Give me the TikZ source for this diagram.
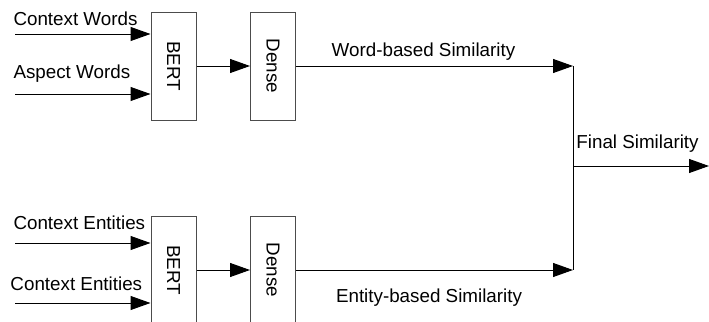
\documentclass[tikz,border=0pt]{standalone}
\usepackage{fontspec}
\setmainfont{Liberation Sans}
\usetikzlibrary{arrows.meta}
\begin{document}
\begin{tikzpicture}[
        x=0.5pt, y=-0.5pt,
        line width=0.5pt,
        font=\fontsize{9.4}{11}\selectfont,
        >={Triangle[length=10pt,width=7pt]}
    ]
    \tikzset{
        block/.style = {rectangle, draw=black!70, rotate=-90, minimum width=54pt, minimum height=22.5pt, inner sep=0pt},
        lbl/.style = {inner sep=0pt, text=black},
    }
    \useasboundingbox (0,0) rectangle (709,322);
    % word branch
    \node[block] (bert1) at (173.5,66) {BERT};
    \node[block] (dense1) at (273,66) {Dense};
    \node[lbl,anchor=west] (cwl) at (13,19) {Context Words};
    \node[lbl,anchor=west] (awl) at (13,74) {Aspect Words};
    \coordinate (cw) at (15,34);
    \coordinate (aw) at (15,94);
    \draw[->] (cw) -- (cw -| bert1.south);
    \draw[->] (aw) -- (aw -| bert1.south);
    \draw[->] (bert1) -- (dense1);
    % entity branch
    \node[block] (bert2) at (173.5,270) {BERT};
    \node[block] (dense2) at (273,270) {Dense};
    \node[lbl,anchor=west] (ce1l) at (13,223) {Context Entities};
    \node[lbl,anchor=west] (ce2l) at (10,284) {Context Entities};
    \coordinate (ce1) at (15,243);
    \coordinate (ce2) at (15,303);
    \draw[->] (ce1) -- (ce1 -| bert2.south);
    \draw[->] (ce2) -- (ce2 -| bert2.south);
    \draw[->] (bert2) -- (dense2);
    % merge
    \coordinate (jt) at (573,66);
    \coordinate (jb) at (573,270);
    \coordinate (join) at (573,166);
    \coordinate (out) at (709,166);
    \draw[->] (dense1) -- (jt);
    \draw[->] (dense2) -- (jb);
    \draw (jt) -- (jb);
    \draw[->] (join) -- (out);
    \node[lbl] (wsl) at (423.5,52) {Word-based Similarity};
    \node[lbl] (esl) at (429,298) {Entity-based Similarity};
    \node[lbl] (fsl) at (637.5,144) {Final Similarity};
\end{tikzpicture}
\end{document}
